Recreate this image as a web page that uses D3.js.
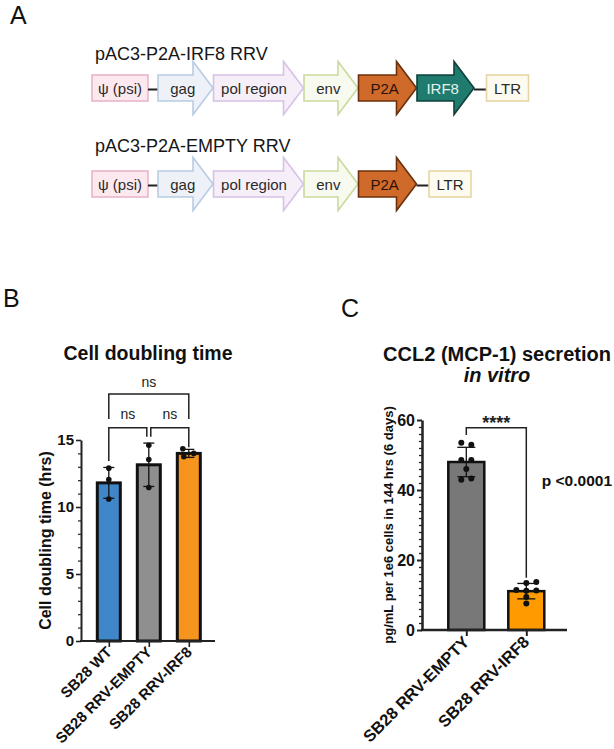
<!DOCTYPE html>
<html><head><meta charset="utf-8">
<script src="https://cdn.jsdelivr.net/npm/d3@7"></script>
<style>
body{margin:0;background:#fff}
svg{display:block;background:#fff}
text{font-family:"Liberation Sans",Arial,Helvetica,sans-serif}
</style>
</head><body>
<svg id="chart" width="614" height="749"></svg>
<script>
// ---------- Panel A data ----------
const constructNames = ["pAC3-P2A-IRF8 RRV", "pAC3-P2A-EMPTY RRV"];
const irf8Segments = ["ψ (psi)", "gag", "pol region", "env", "P2A", "IRF8", "LTR"];
const emptySegments = ["ψ (psi)", "gag", "pol region", "env", "P2A", "LTR"];

// ---------- Panel B data ----------
const bCategories = ["SB28 WT", "SB28 RRV-EMPTY", "SB28 RRV-IRF8"];
const bMeans = [11.8, 13.15, 14.0];
const bSD = [1.15, 1.62, 0.3];
const bPoints = [[12.9, 12.05, 10.6], [14.6, 13.55, 11.45], [14.35, 13.75, 14.0]];
const bMajorTicks = [0, 5, 10, 15];
const bTitle = "Cell doubling time";
const bYLabel = "Cell doubling time (hrs)";
const bSigLabels = ["ns", "ns", "ns"];

// ---------- Panel C data ----------
const cCategories = ["SB28 RRV-EMPTY", "SB28 RRV-IRF8"];
const cMeans = [48.0, 11.1];
const cSD = [4.2, 2.2];
const cPoints = [[53.5, 52.9, 48.6, 48.6, 46.0, 42.9, 43.3], [11.4, 13.4, 13.7, 11.2, 11.3, 9.4, 7.6]];
const cMajorTicks = [0, 20, 40, 60];
const cTitle = ["CCL2 (MCP-1) secretion", "in vitro"];
const cYLabel = "pg/mL per 1e6 cells in 144 hrs (6 days)";
const cSigLabel = "****";
const cPLabel = "p <0.0001";

// ---------- styles / layout ----------
const segStyle = {
  "ψ (psi)":   {kind: "box",   w: 56, fill: "#fce9f0", stroke: "#eab4c9", text: "#2a2a2a"},
  "gag":       {kind: "arrow", w: 55, fill: "#eef2f8", stroke: "#b8cce3", text: "#2a2a2a"},
  "pol region":{kind: "arrow", w: 90, fill: "#f6eff9", stroke: "#d8c1e6", text: "#2a2a2a"},
  "env":       {kind: "arrow", w: 54, fill: "#f9faef", stroke: "#c8da9d", text: "#2a2a2a"},
  "P2A":       {kind: "arrow", w: 58, fill: "#d06a2a", stroke: "#6c2f0c", text: "#2a1206"},
  "IRF8":      {kind: "arrow", w: 57, fill: "#1f7b6e", stroke: "#0e4139", text: "#e3f3ef"},
  "LTR":       {kind: "box",   w: 42, fill: "#fdfaf0", stroke: "#e6d6a6", text: "#2a2a2a"}
};
const bColors = ["#3f87c8", "#8f8f8f", "#f7941d"];
const cColors = ["#787878", "#ff9a00"];
const bJitter = [[0, 0, 0], [0, 0, 0], [-6, -5, 5]];
const cJitter = [[-5, 5, -5, 5, 0, -5, 5], [-10, 0, 10, 0, 10, 0, 0]];

const svg = d3.select("#chart");

// Panel letters
[["A", 10, 24], ["B", 3, 307], ["C", 341, 317]].forEach(([t, x, y]) => {
  svg.append("text").attr("x", x).attr("y", y).attr("font-size", 25).attr("fill", "#111").text(t);
});

// ---------- Panel A ----------
function drawConstruct(name, segs, labelY, cy) {
  svg.append("text").attr("x", 95).attr("y", labelY).attr("font-size", 18).attr("fill", "#161616").text(name);
  const g = svg.append("g");
  let x = 92;
  const bodyH = 13, headH = 26.5, headLen = 20;
  segs.forEach((s, i) => {
    const st = segStyle[s];
    const prev = i > 0 ? segStyle[segs[i - 1]] : null;
    if (prev) {
      if (prev.kind === "box" || st.kind === "box") {
        const len = st.kind === "box" ? 12.5 : 10;
        g.append("line").attr("x1", x).attr("x2", x + len).attr("y1", cy + 1.5).attr("y2", cy + 1.5)
          .attr("stroke", "#222").attr("stroke-width", 2);
        x += len;
      } else {
        x += 0.5;
      }
    }
    if (st.kind === "box") {
      g.append("rect").attr("x", x).attr("y", cy - bodyH).attr("width", st.w).attr("height", bodyH * 2)
        .attr("fill", st.fill).attr("stroke", st.stroke).attr("stroke-width", 1.6);
      g.append("text").attr("x", x + st.w / 2).attr("y", cy + 5.5).attr("text-anchor", "middle")
        .attr("font-family", "Roboto, 'Liberation Sans', sans-serif").attr("font-size", 15).attr("fill", st.text).text(s);
    } else {
      const xb = x + st.w - headLen, xe = x + st.w;
      const pts = [[x, cy - bodyH], [xb, cy - bodyH], [xb, cy - headH], [xe, cy], [xb, cy + headH], [xb, cy + bodyH], [x, cy + bodyH]];
      g.append("path").attr("d", d3.line()(pts) + "Z").attr("fill", st.fill).attr("stroke", st.stroke)
        .attr("stroke-width", 1.6).attr("stroke-linejoin", "miter");
      g.append("text").attr("x", x + st.w * 0.45).attr("y", cy + 5.5).attr("text-anchor", "middle")
        .attr("font-family", "Roboto, 'Liberation Sans', sans-serif").attr("font-size", 15).attr("fill", st.text).text(s);
    }
    x += st.w;
  });
}
drawConstruct(constructNames[0], irf8Segments, 59.5, 88);
drawConstruct(constructNames[1], emptySegments, 152, 184);

// ---------- Panel B ----------
const bY = d3.scaleLinear().domain([0, 15]).range([641, 440]);
const bX = d3.scalePoint().domain(bCategories).range([88.8, 208.8]).padding(0.5);
const bAxisX = 81;

svg.append("text").attr("x", 148).attr("y", 360).attr("text-anchor", "middle")
  .attr("font-size", 19.5).attr("font-weight", "bold").attr("fill", "#111").text(bTitle);

const bG = svg.append("g");
bCategories.forEach((c, i) => {
  bG.append("rect").attr("x", bX(c) - 11.5).attr("width", 23)
    .attr("y", bY(bMeans[i])).attr("height", bY(0) - bY(bMeans[i]))
    .attr("fill", bColors[i]).attr("stroke", "#111").attr("stroke-width", 3);
});
bCategories.forEach((c, i) => {
  const cx = bX(c), lo = bY(bMeans[i] - bSD[i]), hi = bY(bMeans[i] + bSD[i]);
  bG.append("line").attr("x1", cx).attr("x2", cx).attr("y1", lo).attr("y2", hi).attr("stroke", "#111").attr("stroke-width", 1.3);
  [lo, hi].forEach(yy => bG.append("line").attr("x1", cx - 5.5).attr("x2", cx + 5.5).attr("y1", yy).attr("y2", yy).attr("stroke", "#111").attr("stroke-width", 1.3));
});
bCategories.forEach((c, i) => {
  bPoints[i].forEach((v, j) => {
    bG.append("circle").attr("cx", bX(c) + bJitter[i][j]).attr("cy", bY(v)).attr("r", 2.8).attr("fill", "#111");
  });
});
const bYAxis = svg.append("g").attr("transform", `translate(${bAxisX},0)`)
  .call(d3.axisLeft(bY).tickValues(bMajorTicks).tickSize(5).tickSizeOuter(0).tickPadding(2).tickFormat(d3.format("d")));
bYAxis.select(".domain").attr("stroke", "#222").attr("stroke-width", 2);
bYAxis.selectAll(".tick line").attr("stroke", "#222").attr("stroke-width", 1.6);
bYAxis.selectAll(".tick text").attr("font-size", 15).attr("font-weight", "bold").attr("fill", "#111")
  .attr("font-family", "'Liberation Sans', Arial, sans-serif");
const bMinor = svg.append("g").attr("transform", `translate(${bAxisX},0)`)
  .call(d3.axisLeft(bY).tickValues(d3.range(0, 16).filter(d => d % 5 !== 0)).tickSize(3).tickFormat(""));
bMinor.select(".domain").remove();
bMinor.selectAll(".tick line").attr("stroke", "#222").attr("stroke-width", 1.2);
svg.append("line").attr("x1", bAxisX - 1).attr("x2", 215).attr("y1", bY(0)).attr("y2", bY(0)).attr("stroke", "#222").attr("stroke-width", 2);
const bXAxis = svg.append("g").attr("transform", `translate(0,${bY(0)})`)
  .call(d3.axisBottom(bX).tickSize(6).tickSizeOuter(0).tickFormat(""));
bXAxis.select(".domain").remove();
bXAxis.selectAll(".tick line").attr("stroke", "#222").attr("stroke-width", 1.6);
bCategories.forEach(c => {
  svg.append("text").attr("transform", `translate(${bX(c) + 4},${bY(0) + 12}) rotate(-45)`)
    .attr("text-anchor", "end").attr("font-size", 15).attr("font-weight", "bold").attr("fill", "#111").text(c);
});
svg.append("text").attr("transform", `translate(45,${(bY(0) + bY(15)) / 2}) rotate(-90)`)
  .attr("text-anchor", "middle").attr("dy", "0.35em").attr("font-size", 16).attr("font-weight", "bold").attr("fill", "#111").text(bYLabel);
function bracket(x1, x2, yTop, yL, yR) {
  svg.append("path").attr("d", d3.line()([[x1, yL], [x1, yTop], [x2, yTop], [x2, yR]]))
    .attr("fill", "none").attr("stroke", "#222").attr("stroke-width", 1.5);
}
const [b0, b1, b2] = bCategories.map(c => bX(c));
bracket(b0, b2, bY(18.43), bY(16.57), bY(16.57));
bracket(b0, b1 - 2, bY(15.92), bY(13.43), bY(15.25));
bracket(b1 + 2, b2, bY(15.92), bY(15.25), bY(14.45));
svg.append("text").attr("x", (b0 + b2) / 2).attr("y", bY(18.96)).attr("text-anchor", "middle").attr("font-size", 14).attr("fill", "#222").text(bSigLabels[0]);
svg.append("text").attr("x", (b0 + b1) / 2 - 1).attr("y", bY(16.57)).attr("text-anchor", "middle").attr("font-size", 14).attr("fill", "#222").text(bSigLabels[1]);
svg.append("text").attr("x", (b1 + b2) / 2 + 1).attr("y", bY(16.57)).attr("text-anchor", "middle").attr("font-size", 14).attr("fill", "#222").text(bSigLabels[2]);

// ---------- Panel C ----------
const cY = d3.scaleLinear().domain([0, 60]).range([630, 420]);
const cX = d3.scalePoint().domain(cCategories).range([436.3, 556.3]).padding(0.5);
const cAxisX = 422;

svg.append("text").attr("x", 497).attr("y", 361).attr("text-anchor", "middle")
  .attr("font-size", 20).attr("font-weight", "bold").attr("fill", "#111").text(cTitle[0]);
svg.append("text").attr("x", 497).attr("y", 382).attr("text-anchor", "middle")
  .attr("font-size", 20).attr("font-weight", "bold").attr("font-style", "italic").attr("fill", "#111").text(cTitle[1]);

const cG = svg.append("g");
cCategories.forEach((c, i) => {
  cG.append("rect").attr("x", cX(c) - 18).attr("width", 36)
    .attr("y", cY(cMeans[i])).attr("height", cY(0) - cY(cMeans[i]))
    .attr("fill", cColors[i]).attr("stroke", "#111").attr("stroke-width", 2.5);
});
cCategories.forEach((c, i) => {
  const cx = cX(c), lo = cY(cMeans[i] - cSD[i]), hi = cY(cMeans[i] + cSD[i]);
  cG.append("line").attr("x1", cx).attr("x2", cx).attr("y1", lo).attr("y2", hi).attr("stroke", "#111").attr("stroke-width", 1.3);
  [lo, hi].forEach(yy => cG.append("line").attr("x1", cx - 9).attr("x2", cx + 9).attr("y1", yy).attr("y2", yy).attr("stroke", "#111").attr("stroke-width", 1.3));
});
cCategories.forEach((c, i) => {
  cPoints[i].forEach((v, j) => {
    cG.append("circle").attr("cx", cX(c) + cJitter[i][j]).attr("cy", cY(v)).attr("r", 3).attr("fill", "#111");
  });
});
const cYAxis = svg.append("g").attr("transform", `translate(${cAxisX},0)`)
  .call(d3.axisLeft(cY).tickValues(cMajorTicks).tickSize(5).tickSizeOuter(0).tickPadding(2).tickFormat(d3.format("d")));
cYAxis.select(".domain").attr("stroke", "#222").attr("stroke-width", 2.5);
cYAxis.selectAll(".tick line").attr("stroke", "#222").attr("stroke-width", 2);
cYAxis.selectAll(".tick text").attr("font-size", 16).attr("font-weight", "bold").attr("fill", "#111")
  .attr("font-family", "'Liberation Sans', Arial, sans-serif");
const cMinor = svg.append("g").attr("transform", `translate(${cAxisX},0)`)
  .call(d3.axisLeft(cY).tickValues(d3.range(0, 61, 2).filter(d => d % 20 !== 0)).tickSize(3).tickFormat(""));
cMinor.select(".domain").remove();
cMinor.selectAll(".tick line").attr("stroke", "#222").attr("stroke-width", 1.3);
svg.append("line").attr("x1", cAxisX - 1).attr("x2", 567).attr("y1", cY(0)).attr("y2", cY(0)).attr("stroke", "#222").attr("stroke-width", 2.5);
const cXAxis = svg.append("g").attr("transform", `translate(0,${cY(0)})`)
  .call(d3.axisBottom(cX).tickSize(6).tickSizeOuter(0).tickFormat(""));
cXAxis.select(".domain").remove();
cXAxis.selectAll(".tick line").attr("stroke", "#222").attr("stroke-width", 2);
cCategories.forEach(c => {
  svg.append("text").attr("transform", `translate(${cX(c) + 4},${cY(0) + 13}) rotate(-45)`)
    .attr("text-anchor", "end").attr("font-size", 16.5).attr("font-weight", "bold").attr("fill", "#111").text(c);
});
svg.append("text").attr("transform", `translate(388,${(cY(0) + cY(60)) / 2}) rotate(-90)`)
  .attr("text-anchor", "middle").attr("dy", "0.35em").attr("font-size", 13).attr("font-weight", "bold").attr("fill", "#111").text(cYLabel);
const [c0, c1] = cCategories.map(c => cX(c));
bracket(c0, c1, cY(57.8), cY(55.7), cY(14.9));
svg.append("text").attr("x", (c0 + c1) / 2).attr("y", cY(57.8) + 1).attr("text-anchor", "middle")
  .attr("font-size", 18).attr("font-weight", "bold").attr("fill", "#222").text(cSigLabel);
svg.append("text").attr("x", 612).attr("y", 486).attr("text-anchor", "end")
  .attr("font-size", 15.5).attr("font-weight", "bold").attr("fill", "#111").text(cPLabel);
</script>
</body></html>
